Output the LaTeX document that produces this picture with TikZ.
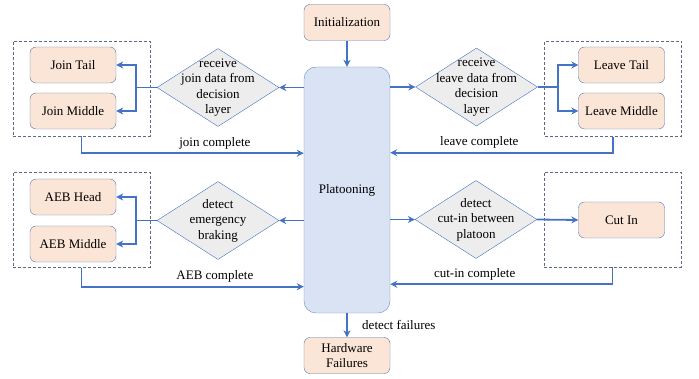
\documentclass[tikz,border=0pt]{standalone}
\usepackage{fontspec}
\setmainfont{Liberation Serif}
\usetikzlibrary{shapes.geometric,arrows.meta}
\definecolor{flowblue}{HTML}{4472C4}
\definecolor{peach}{HTML}{FBE5D6}
\definecolor{boxedge}{HTML}{5A76A8}
\definecolor{platedge}{HTML}{6A8BC6}
\definecolor{platfill}{HTML}{DAE3F3}
\definecolor{decfill}{HTML}{EDEDED}
\definecolor{grpedge}{HTML}{5E6880}

\begin{document}
\begin{tikzpicture}[x=1pt,y=-1pt,font=\fontsize{13}{15.5}\selectfont]
\tikzset{state/.style = {shape=rectangle,rounded corners=6pt,draw=boxedge,fill=peach,minimum width=86pt,minimum height=36pt,align=center,inner sep=1pt}}
\tikzset{core/.style = {shape=rectangle,rounded corners=12pt,draw=platedge,fill=platfill,minimum width=86pt,minimum height=246pt}}
\tikzset{decision/.style = {shape=diamond,draw=flowblue,fill=decfill,inner sep=0pt,minimum width=122pt,minimum height=78pt}}
\tikzset{grp/.style = {shape=rectangle,draw=grpedge,dash pattern=on 3pt off 2pt,minimum width=137pt,minimum height=95pt}}
\tikzset{flow/.style = {-{Stealth[length=7pt,width=7pt]},draw=flowblue,line width=1.8pt}}
\tikzset{link/.style = {draw=flowblue,line width=1.8pt}}
\tikzset{dtxt/.style = {align=center,inner sep=0pt}}
\useasboundingbox (0,0) rectangle (699,379);
% vertices
\node[state] (init) at (347,22.5)  {Initialization};
\node[core]  (plat) at (347,190)   {Platooning};
\node[state] (hw)   at (347,355.5) {Hardware\\Failures};
% join
\node[grp]      (jgrp)  at (81.5,88.5) {};
\node[state]    (jtail) at (73,65)     {Join Tail};
\node[state]    (jmid)  at (73,111)    {Join Middle};
\node[decision] (jdec)  at (218,87.5)  {};
\node[dtxt]     (jtxt)  at (jdec)      {receive\\join data from\\decision\\layer};
% leave
\node[grp]      (lgrp)  at (613,89)    {};
\node[state]    (ltail) at (621.5,65)  {Leave Tail};
\node[state]    (lmid)  at (621.5,111) {Leave Middle};
\node[decision] (ldec)  at (476.5,87)  {};
\node[dtxt]     (ltxt)  at (ldec)      {receive\\leave data from\\decision\\layer};
% aeb
\node[grp]      (agrp)  at (81.5,220)  {};
\node[state]    (ahead) at (73,197)    {AEB Head};
\node[state]    (amid)  at (73,244)    {AEB Middle};
\node[decision] (adec)  at (218,220.5) {};
\node[dtxt]     (atxt)  at (adec)      {detect\\emergency\\braking};
% cut in
\node[grp]      (cgrp)  at (612.5,219.5) {};
\node[state]    (cut)   at (621.5,220)   {Cut In};
\node[decision] (cdec)  at (476,219.5)   {};
\node[dtxt]     (ctxt)  at (cdec)        {detect\\cut-in between\\platoon};
%edges
\draw[flow] (init) -- (plat);
\draw[flow] (plat) -- (hw) node[midway,right=11pt] {detect failures};
% join
\coordinate (jbr) at (136,87.5);
\draw[flow] (plat.west |- jdec.east) -- (jdec.east);
\draw[link] (jdec.west) -- (jbr);
\draw[flow] (jbr) |- (jtail.east);
\draw[flow] (jbr) |- (jmid.east);
\draw[flow] (jgrp.south) -- ++(0,17) coordinate (jc) -- (jc -| plat.west) node[pos=0.6,above] {join complete};
% leave
\coordinate (lbr) at (558,87);
\draw[flow] (plat.east |- ldec.west) -- (ldec.west);
\draw[link] (ldec.east) -- (lbr);
\draw[flow] (lbr) |- (ltail.west);
\draw[flow] (lbr) |- (lmid.west);
\draw[flow] (lgrp.south) -- ++(0,16) coordinate (lc) -- (lc -| plat.east) node[pos=0.6,above] {leave complete};
% aeb
\coordinate (abr) at (136,220.5);
\draw[flow] (plat.west |- adec.east) -- (adec.east);
\draw[link] (adec.west) -- (abr);
\draw[flow] (abr) |- (ahead.east);
\draw[flow] (abr) |- (amid.east);
\draw[flow] (agrp.south) -- ++(0,19) coordinate (ac) -- (ac -| plat.west) node[pos=0.6,above] {AEB complete};
% cut in
\draw[flow] (plat.east |- cdec.west) -- (cdec.west);
\draw[flow] (cdec.east) -- (cut.west);
\draw[flow] (cgrp.south) -- ++(0,17) coordinate (cc) -- (cc -| plat.east) node[pos=0.62,above] {cut-in complete};
\end{tikzpicture}
\end{document}
